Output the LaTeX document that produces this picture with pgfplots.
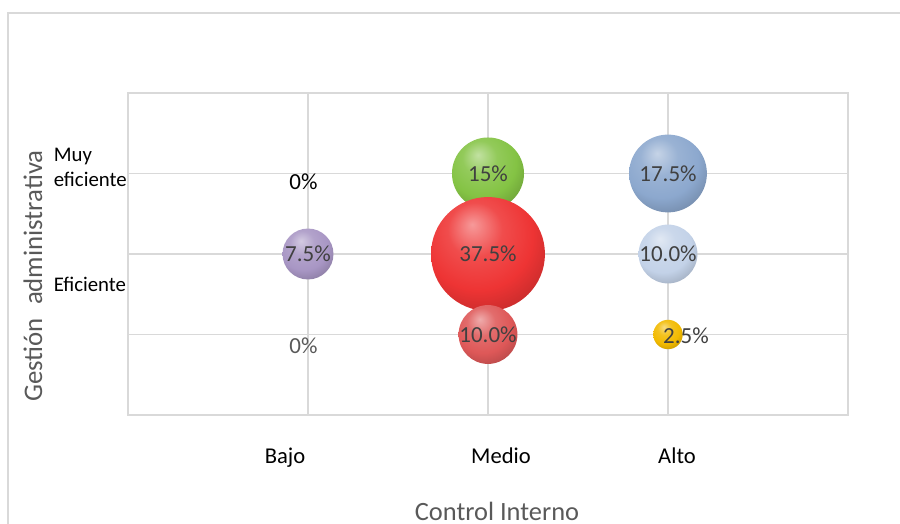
\documentclass[border=0pt]{standalone}
\usepackage{pgfplots}
\pgfplotsset{compat=1.18}
\usepackage{fontspec}
\setmainfont{Carlito}
\definecolor{gridc}{RGB}{217,217,217}
\definecolor{txtg}{RGB}{89,89,89}
\definecolor{lblc}{RGB}{64,64,64}
\definecolor{cgreen}{RGB}{132,195,68}
\definecolor{cblue}{RGB}{140,168,206}
\definecolor{cred}{RGB}{238,52,52}
\definecolor{cred2}{RGB}{222,88,88}
\definecolor{clblue}{RGB}{195,210,232}
\definecolor{cpurple}{RGB}{168,150,196}
\definecolor{cyellow}{RGB}{242,186,0}
\colorlet{bubc}{red}
\pgfdeclareradialshading[bubc]{mybub}{\pgfpoint{-7bp}{13bp}}{%
  color(0bp)=(bubc!50!white); color(12bp)=(bubc!88!white); color(24bp)=(bubc);
  color(36bp)=(bubc!80!black); color(48bp)=(bubc!58!black); color(66bp)=(bubc!45!black)}
\pgfdeclareplotmark{bubble}{%
  \pgfpathcircle{\pgfpointorigin}{\pgfplotmarksize}%
  \pgfshadepath{mybub}{0}%
  \pgfusepath{discard}%
}
\tikzset{bubcolor/.code={\colorlet{bubc}{#1}}}
\pgfplotsset{
  bub/.style={
    scatter, only marks, mark=bubble,
    point meta=\thisrow{v},
    scatter/use mapped color={/tikz/bubcolor=#1},
    visualization depends on={4.65*sqrt(\thisrow{v}) \as \rad},
    scatter/@pre marker code/.append style={/tikz/mark size=\rad, /tikz/bubcolor=#1},
  },
  lbl/.style={
    only marks, mark=none, nodes near coords, point meta=explicit symbolic,
    nodes near coords style={anchor=center, font=\fontsize{11.5}{13}\selectfont, text=#1, inner sep=0pt},
  },
}
\begin{document}
\begin{tikzpicture}
\path[use as bounding box] (0pt,0pt) rectangle (450pt,262pt);
\draw[gridc, line width=1pt] (4pt,0pt) -- (4pt,255.5pt) -- (450pt,255.5pt);
\begin{axis}[
  at={(64pt,54.5pt)}, anchor=origin,
  scale only axis, width=360pt, height=161pt,
  xmin=0, xmax=4, ymin=0, ymax=4,
  xtick={1,2,3}, ytick={1,2,3},
  xticklabels={}, yticklabels={},
  major tick length=0pt,
  grid=major,
  major grid style={gridc, line width=0.8pt},
  axis line style={gridc, line width=1pt},
  clip=false,
]
\addplot[bub=cgreen] table {
x y v
2 3 15
};
\addplot[bub=cblue] table {
x y v
3 3 17.5
};
\addplot[bub=cred] table {
x y v
2 2 37.5
};
\addplot[bub=cpurple] table {
x y v
1 2 7.5
};
\addplot[bub=clblue] table {
x y v
3 2 10
};
\addplot[bub=cred2] table {
x y v
2 1 10
};
\addplot[bub=cyellow] table {
x y v
3 1 2.5
};
% data labels
\addplot[lbl=lblc] table[meta=lab] {
x y lab
2 3 15\%
3 3 17.5\%
2 2 37.5\%
1 2 7.5\%
3 2 10.0\%
2 1 10.0\%
};
\addplot[lbl=lblc, nodes near coords style={xshift=9pt, yshift=-0.8pt}] table[meta=lab] {
x y lab
3 1 2.5\%
};
\addplot[lbl=black, nodes near coords style={yshift=-4.25pt, xshift=-2.3pt}] table[meta=lab] {
x y lab
1 3 0\%
};
\addplot[lbl=txtg, nodes near coords style={yshift=-5.75pt, xshift=-2.3pt}] table[meta=lab] {
x y lab
1 1 0\%
};
\end{axis}
% y category labels
\node[anchor=base west, font=\fontsize{10.4}{12.5}\selectfont, inner sep=0pt] at (26.7pt,181.2pt) {Muy};
\node[anchor=base west, font=\fontsize{10.4}{12.5}\selectfont, inner sep=0pt] at (26.7pt,168.7pt) {eficiente};
\node[anchor=base west, font=\fontsize{10.4}{12.5}\selectfont, inner sep=0pt] at (26.7pt,116.2pt) {Eficiente};
% x category labels
\node[anchor=base, font=\fontsize{11.3}{13}\selectfont, inner sep=0pt] at (142.5pt,30pt) {Bajo};
\node[anchor=base, font=\fontsize{11.3}{13}\selectfont, inner sep=0pt] at (250.5pt,30pt) {Medio};
\node[anchor=base, font=\fontsize{11.3}{13}\selectfont, inner sep=0pt] at (338.5pt,30pt) {Alto};
% axis titles
\node[anchor=base, font=\fontsize{13.2}{15}\selectfont, text=txtg, inner sep=0pt] at (248.5pt,1.8pt) {Control Interno};
\node[anchor=base, font=\fontsize{13.4}{15}\selectfont, text=txtg, inner sep=0pt, rotate=90] at (21pt,124pt) {Gestión\hspace{0.5em}administrativa};
\end{tikzpicture}
\end{document}
